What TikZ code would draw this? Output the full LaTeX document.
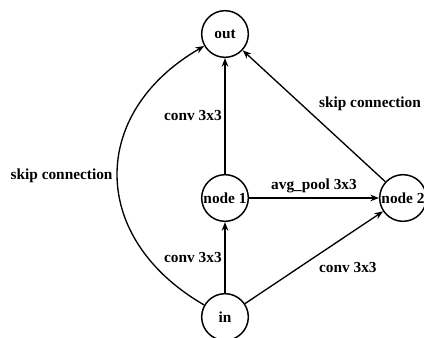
\documentclass[tikz,border=0pt]{standalone}
\usepackage{fontspec}
\setmainfont{Liberation Serif}
\usetikzlibrary{arrows.meta}

\begin{document}
\begin{tikzpicture}[x=0.75pt,y=-0.75pt]
\tikzset{cell/.style={draw,circle,line width=1.1pt,minimum size=35pt,inner sep=0pt,font=\bfseries\fontsize{11.5}{13}\selectfont}}
\tikzset{op/.style={font=\bfseries\fontsize{11.5}{13}\selectfont}}
\tikzset{edge/.style={line width=1pt,-{Stealth[length=6.5pt,width=5pt]}}}
\useasboundingbox (0,0) rectangle (424,338);
\node[cell] (out) at (225,34) {out};
\node[cell] (n1) at (225,198) {node 1};
\node[cell] (n2) at (403,198) {node 2};
\node[cell] (in) at (225,317) {in};
% operations
\draw[edge] (in) -- node[op,left,inner sep=2pt] {conv 3x3} (n1);
\draw[edge] (n1) -- node[op,left,inner sep=2pt] {conv 3x3} (out);
\draw[edge] (n1) -- node[op,above] {avg\_pool 3x3} (n2);
\draw[edge] (in) -- node[op,below right] {conv 3x3} (n2);
\draw[edge] (n2) -- node[op,above right] {skip connection} (out);
\draw[edge] (in) to[out=150,in=210,looseness=1.32] node[op,left] {skip connection} (out);
\end{tikzpicture}
\end{document}
